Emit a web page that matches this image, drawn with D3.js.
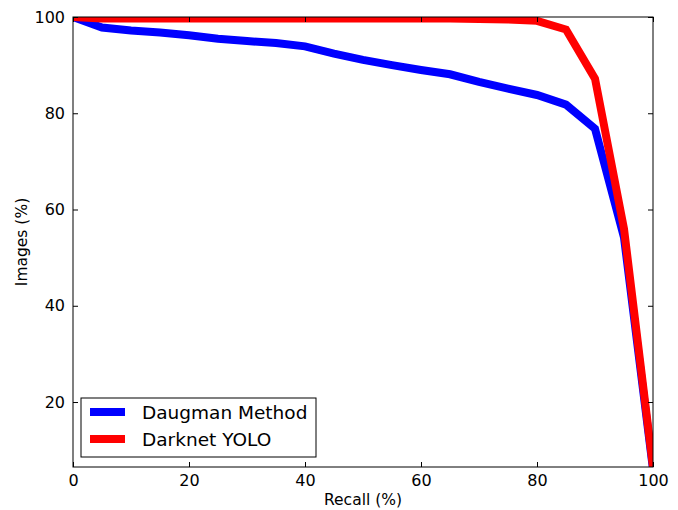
<!DOCTYPE html>
<html>
<head>
<meta charset="utf-8">
<script src="https://cdn.jsdelivr.net/npm/d3@7"></script>
<style>
  body { margin: 0; background: #fff; }
  text { font-family: "DejaVu Sans", sans-serif; fill: #000; }
</style>
</head>
<body>
<script>
var recall = [0, 5, 10, 15, 20, 25, 30, 35, 40, 45, 50, 55, 60, 65, 70, 75, 80, 85, 90, 95, 100];
var daugman = [100, 97.8, 97.2, 96.8, 96.2, 95.5, 95, 94.6, 93.9, 92.4, 91.1, 90, 89, 88.1, 86.5, 85.1, 83.8, 81.8, 76.8, 54.2, 6];
var yolo = [100, 99.7, 99.7, 99.7, 99.7, 99.7, 99.7, 99.7, 99.7, 99.7, 99.7, 99.7, 99.7, 99.7, 99.6, 99.5, 99.2, 97.4, 87.2, 56, 6.5];
var xTicks = [0, 20, 40, 60, 80, 100];
var yTicks = [20, 40, 60, 80, 100];
var seriesNames = ["Daugman Method", "Darknet YOLO"];
var seriesColors = ["#0000ff", "#ff0000"];

var W = 678, H = 510;
var margin = {top: 17, right: 25, bottom: 43, left: 73};
var w = W - margin.left - margin.right;
var h = H - margin.top - margin.bottom;

var svg = d3.select('body').append('svg')
    .attr('width', W)
    .attr('height', H);

var g = svg.append('g')
    .attr('transform', 'translate(' + margin.left + ',' + margin.top + ')');

var xScale = d3.scaleLinear().domain([0, 100]).range([0, w]);
var yScale = d3.scaleLinear().domain([6.5, 100]).range([h, 0]);

g.append('clipPath').attr('id', 'clip')
    .append('rect').attr('width', w).attr('height', h);

var line = d3.line()
    .x(function (d) { return xScale(d[0]); })
    .y(function (d) { return yScale(d[1]); });

[daugman, yolo].forEach(function (vals, i) {
    g.append('path')
        .datum(recall.map(function (r, j) { return [r, vals[j]]; }))
        .attr('clip-path', 'url(#clip)')
        .attr('fill', 'none')
        .attr('stroke', seriesColors[i])
        .attr('stroke-width', 8)
        .attr('stroke-linejoin', 'miter')
        .attr('d', line);
});

// axes, ticks pointing inward on all four sides
function styleAxis(sel) {
    sel.select('.domain').remove();
    sel.selectAll('.tick line').attr('stroke', '#000');
    sel.selectAll('.tick text').style('font-size', '16px').style('font-family', '"DejaVu Sans", sans-serif');
}

g.append('g')
    .attr('transform', 'translate(0,' + h + ')')
    .call(d3.axisBottom(xScale).tickValues(xTicks).tickSize(-5).tickPadding(8))
    .call(styleAxis);
g.append('g')
    .call(d3.axisTop(xScale).tickValues(xTicks).tickSize(-5).tickFormat(''))
    .call(styleAxis);
g.append('g')
    .call(d3.axisLeft(yScale).tickValues(yTicks).tickSize(-5).tickPadding(8))
    .call(styleAxis);
g.append('g')
    .attr('transform', 'translate(' + w + ',0)')
    .call(d3.axisRight(yScale).tickValues(yTicks).tickSize(-5).tickFormat(''))
    .call(styleAxis);

g.append('rect')
    .attr('width', w).attr('height', h)
    .attr('fill', 'none').attr('stroke', '#000').attr('stroke-width', 1);

// axis labels
svg.append('text')
    .attr('x', margin.left + w / 2)
    .attr('y', 505)
    .attr('text-anchor', 'middle')
    .style('font-size', '15.5px')
    .text('Recall (%)');

svg.append('text')
    .attr('transform', 'translate(27,' + (margin.top + h / 2) + ') rotate(-90)')
    .attr('text-anchor', 'middle')
    .style('font-size', '15.5px')
    .text('Images (%)');

// legend
var legend = g.append('g').attr('transform', 'translate(8,381)');
legend.append('rect')
    .attr('width', 235).attr('height', 59)
    .attr('fill', '#fff').attr('stroke', '#000').attr('stroke-width', 1);
seriesNames.forEach(function (name, i) {
    var y = 14 + i * 27;
    legend.append('line')
        .attr('x1', 9).attr('x2', 44)
        .attr('y1', y).attr('y2', y)
        .attr('stroke', seriesColors[i]).attr('stroke-width', 8);
    legend.append('text')
        .attr('x', 61).attr('y', y + 7)
        .style('font-size', '18.5px')
        .text(name);
});
</script>
</body>
</html>
